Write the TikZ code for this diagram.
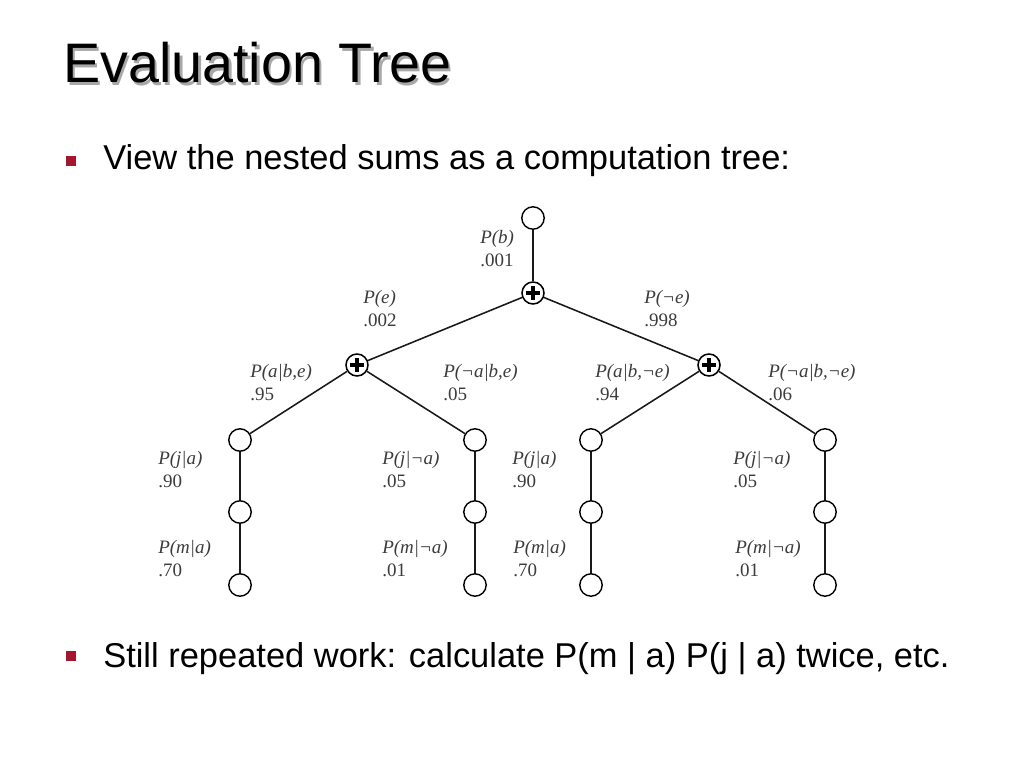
\documentclass[tikz,border=0pt]{standalone}
\usepackage{fontspec}
\setmainfont{Liberation Sans}
\newfontfamily\treefont{Liberation Serif}
\usetikzlibrary{positioning}
\definecolor{bulletred}{HTML}{A3162E}
\definecolor{shadowgray}{HTML}{A8A8A8}
\definecolor{labelgray}{HTML}{3C3C3C}

\begin{document}
\begin{tikzpicture}[x=0.025cm, y=-0.025cm,
    leaf/.style={circle, draw, line width=1pt, minimum size=0.56cm, inner sep=0},
    sumnode/.style={circle, draw, line width=1.1pt, minimum size=0.55cm, inner sep=0,
        path picture={
            \draw[line width=2.6pt] ([xshift=-0.17cm]path picture bounding box.center)
                -- ([xshift=0.17cm]path picture bounding box.center);
            \draw[line width=2.6pt] ([yshift=-0.17cm]path picture bounding box.center)
                -- ([yshift=0.17cm]path picture bounding box.center);
        }},
    edge/.style={line width=1.1pt, draw=black!90},
    prob/.style={anchor=north west, inner sep=0, align=left, text=labelgray,
        font=\treefont\fontsize{13.5}{16.4}\selectfont},
    heading/.style={anchor=base west, inner sep=0, font=\fontsize{39.6}{44}\selectfont},
    bullettext/.style={anchor=base west, inner sep=0, font=\fontsize{24.5}{29}\selectfont},
    bulletbox/.style={rectangle, fill=bulletred, minimum size=0.26cm, inner sep=0}
]
    \useasboundingbox[fill=white] (0,0) rectangle (1024,768);

    % title with its shadow
    \node[heading, text=shadowgray] (titleshadow) at (65.5,85.5) {Evaluation Tree};
    \node[heading] (title) at (63,83) {Evaluation Tree};

    % bullets
    \node[bulletbox] (bulA) at (71,161) {};
    \node[bullettext] (textA) at (103,170) {View the nested sums as a computation tree:};
    \node[bulletbox] (bulB) at (71,656) {};
    \node[bullettext] (textB) at (103,667) {Still repeated work: calculate P(m | a) P(j | a) twice, etc.};

    % tree
    \node[leaf] (b) at (533,218) {};
    \node[sumnode] (s0) at (533,293) {};
    \node[sumnode] (s1) at (357,365) {};
    \node[sumnode] (s2) at (709,365) {};

    \node[leaf] (a1) at (240,440) {};
    \node[leaf] (a2) at (475,440) {};
    \node[leaf] (a3) at (591,440) {};
    \node[leaf] (a4) at (825,440) {};

    \node[leaf] (j1) at (240,512) {};
    \node[leaf] (j2) at (475,512) {};
    \node[leaf] (j3) at (591,512) {};
    \node[leaf] (j4) at (825,512) {};

    \node[leaf] (m1) at (240,585) {};
    \node[leaf] (m2) at (475,585) {};
    \node[leaf] (m3) at (591,585) {};
    \node[leaf] (m4) at (825,585) {};

    \draw[edge] (b) -- (s0);
    \draw[edge] (s0) -- (s1);
    \draw[edge] (s0) -- (s2);
    \draw[edge] (s1) -- (a1);
    \draw[edge] (s1) -- (a2);
    \draw[edge] (s2) -- (a3);
    \draw[edge] (s2) -- (a4);
    \draw[edge] (a1) -- (j1) -- (m1);
    \draw[edge] (a2) -- (j2) -- (m2);
    \draw[edge] (a3) -- (j3) -- (m3);
    \draw[edge] (a4) -- (j4) -- (m4);

    % probabilities
    \node[prob] (pb) at (480,230) {\textit{P(b)}\\.001};
    \node[prob] (pe) at (363,290) {\textit{P(e)}\\.002};
    \node[prob] (pne) at (644,290) {\textit{P(¬e)}\\.998};
    \node[prob] (pabe) at (250,364) {\textit{P(a|b,e)}\\.95};
    \node[prob] (pnabe) at (443,364) {\textit{P(¬a|b,e)}\\.05};
    \node[prob] (pabne) at (595,364) {\textit{P(a|b,¬e)}\\.94};
    \node[prob] (pnabne) at (768,364) {\textit{P(¬a|b,¬e)}\\.06};
    \node[prob] (pja1) at (158,451) {\textit{P(j|a)}\\.90};
    \node[prob] (pjna1) at (382,451) {\textit{P(j|¬a)}\\.05};
    \node[prob] (pja2) at (512,451) {\textit{P(j|a)}\\.90};
    \node[prob] (pjna2) at (733,451) {\textit{P(j|¬a)}\\.05};
    \node[prob] (pma1) at (158,540) {\textit{P(m|a)}\\.70};
    \node[prob] (pmna1) at (382,540) {\textit{P(m|¬a)}\\.01};
    \node[prob] (pma2) at (513,540) {\textit{P(m|a)}\\.70};
    \node[prob] (pmna2) at (735,540) {\textit{P(m|¬a)}\\.01};
\end{tikzpicture}
\end{document}
